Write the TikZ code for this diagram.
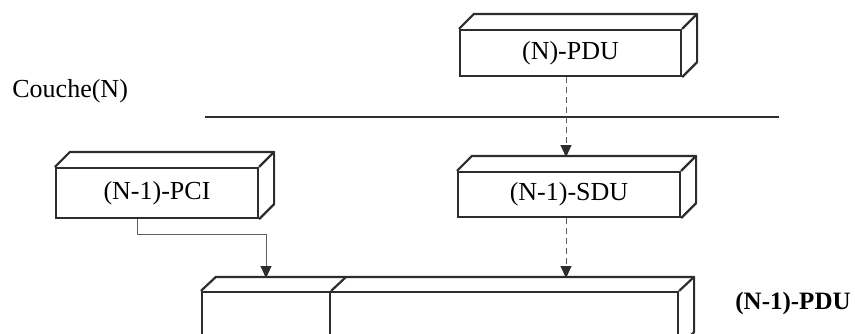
\documentclass[tikz,border=0pt]{standalone}
\usepackage{fontspec}
\setmainfont{Liberation Serif}
\usetikzlibrary{arrows.meta,calc,positioning}
\definecolor{encre}{RGB}{45,45,45}
\definecolor{trait}{RGB}{95,95,95}

\begin{document}
\begin{tikzpicture}[x=0.5pt,y=-0.5pt,
    bloc/.style={draw=encre,line width=1.1pt,inner sep=0pt,fill=white,
      font=\fontsize{13}{15}\selectfont},
    face/.style={draw=encre,line width=1.1pt,line join=round},
    lien/.style={draw=trait,line width=0.5pt,-{Triangle[length=6pt,width=5.5pt,color=encre]}},
    lienpt/.style={lien,dash pattern=on 3pt off 2pt}]
    \useasboundingbox (0,0) rectangle (855,333);
    % les blocs
    \node[bloc,minimum width=110.5pt,minimum height=23pt] (npdu) at (570.5,53) {(N)-PDU};
    \node[bloc,minimum width=101pt,minimum height=25pt] (pci) at (157,193) {(N-1)-PCI};
    \node[bloc,minimum width=111pt,minimum height=22.5pt] (sdu) at (569,194.5) {(N-1)-SDU};
    \node[bloc,minimum width=64pt,minimum height=26.5pt] (pdua) at (266,318.5) {};
    \node[bloc,minimum width=174pt,minimum height=26.5pt] (pdub) at (504,318.5) {};
    % dessus et cote
    \foreach \b in {npdu,pci,sdu}{
      \draw[face] (\b.north west) -- ++(15,-15) -| ($(\b.south east)+(15,-15)$) -- (\b.south east);
      \draw[face] (\b.north east) -- ++(15,-15);
    }
    \draw[face] (pdua.north west) -- ++(15,-14) -| ($(pdub.south east)+(15,-14)$) -- (pdub.south east);
    \draw[face] (pdua.north east) -- ++(15,-14);
    \draw[face] (pdub.north east) -- ++(15,-14);
    % textes
    \node[anchor=base west,inner sep=0pt,font=\fontsize{13}{15}\selectfont] (couche) at (12,97) {Couche(N)};
    \node[anchor=base east,inner sep=0pt,font=\fontsize{12.5}{15}\selectfont\bfseries] (pdulab) at (851,309) {(N-1)-PDU};
    \draw[encre,line width=1.1pt] (205,117) -- (779,117);
    % liaisons
    \coordinate (sduentree) at (566,157);
    \coordinate (pduentreeA) at (266,278);
    \coordinate (pduentreeB) at (566,278);
    \draw[lienpt] (npdu.south -| sduentree) -- (sduentree);
    \draw[lienpt] (sdu.south -| sduentree) -- (pduentreeB);
    \draw[lien] ($(pci.south)+(-20,0)$) -- ++(0,15) -| (pduentreeA);
  \end{tikzpicture}
\end{document}
